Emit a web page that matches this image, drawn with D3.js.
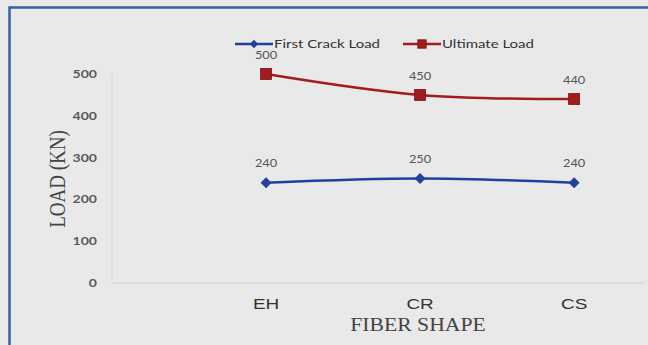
<!DOCTYPE html>
<html>
<head>
<meta charset="utf-8">
<script src="https://cdn.jsdelivr.net/npm/d3@7"></script>
<style>
  html, body { margin: 0; padding: 0; background: #e9e9e9; }
  svg { display: block; }
</style>
</head>
<body>
<svg id="chart" width="648" height="345"></svg>
<script>
// Fiber shapes on the x axis and the two measured loads (kN)
const categories = ["EH", "CR", "CS"];
const firstCrackLoad = [240, 250, 240];
const ultimateLoad = [500, 450, 440];
const yTicks = [0, 100, 200, 300, 400, 500];
const seriesNames = ["First Crack Load", "Ultimate Load"];

const svg = d3.select("#chart");
const W = 648, H = 345;
// text in this figure is drawn slightly wide
const SX = 1.22;

function place(sel, x, y, extra) {
  return sel.attr("x", 0).attr("y", 0)
    .attr("transform", `translate(${x},${y}) scale(${SX},1)` + (extra || ""));
}

// background and frame
svg.append("rect").attr("width", W).attr("height", H).attr("fill", "#e9e9e9");
svg.append("path")
  .attr("d", `M9.5,${H} V7.5 H${W}`)
  .attr("fill", "none").attr("stroke", "#3a5ea8").attr("stroke-width", 2.5);

// scales: categories sit at positions 1..3 on a linear index axis
const x = d3.scaleLinear().domain([0, 3.46]).range([112, 645]);
const y = d3.scaleLinear().domain([0, 500]).range([283, 74]);

// axis lines
svg.append("line").attr("x1", x(0)).attr("x2", x(3.46)).attr("y1", y(0)).attr("y2", y(0))
  .attr("stroke", "#cfcfcf").attr("stroke-width", 1.2);
svg.append("line").attr("x1", x(0)).attr("x2", x(0)).attr("y1", y(0)).attr("y2", y(500))
  .attr("stroke", "#d6d6d6").attr("stroke-width", 1);

// y tick labels
svg.append("g").selectAll("text").data(yTicks).join("text")
  .each(function (d) { place(d3.select(this), 97, y(d)); })
  .attr("dy", "0.35em")
  .attr("text-anchor", "end")
  .attr("font-family", "Lato, 'Open Sans', sans-serif")
  .attr("font-weight", "bold")
  .attr("font-size", 11.5).attr("fill", "#5a5a5a")
  .text(d => d);

// x tick labels
svg.append("g").selectAll("text").data(categories).join("text")
  .each(function (d, i) { place(d3.select(this), x(i + 1), 304); })
  .attr("dy", "0.35em")
  .attr("text-anchor", "middle")
  .attr("font-family", "Liberation Sans, Arial, sans-serif")
  .attr("font-size", 15.5).attr("fill", "#333")
  .text(d => d);

// axis titles
place(svg.append("text"), 57, 179, " rotate(-90)")
  .attr("text-anchor", "middle").attr("dy", "0.35em")
  .attr("font-family", "Liberation Serif, 'Times New Roman', serif")
  .attr("font-size", 19).attr("fill", "#444")
  .text("LOAD (KN)");
place(svg.append("text"), 418, 325)
  .attr("text-anchor", "middle").attr("dy", "0.35em")
  .attr("font-family", "Liberation Serif, 'Times New Roman', serif")
  .attr("font-size", 17.8).attr("fill", "#444")
  .text("FIBER SHAPE");

// series
const series = [
  { name: seriesNames[0], values: firstCrackLoad, color: "#23409a", marker: "diamond" },
  { name: seriesNames[1], values: ultimateLoad, color: "#a21c1e", marker: "square" }
];

const line = d3.line()
  .x((d, i) => x(i + 1))
  .y(d => y(d))
  .curve(d3.curveCatmullRom.alpha(0.5));

function drawMarker(g, type, cx, cy, color, r) {
  if (type === "diamond") {
    g.append("path")
      .attr("d", `M${cx},${cy - r} L${cx + r},${cy} L${cx},${cy + r} L${cx - r},${cy} Z`)
      .attr("fill", color);
  } else {
    g.append("rect")
      .attr("x", cx - r).attr("y", cy - r).attr("width", 2 * r).attr("height", 2 * r)
      .attr("fill", color).attr("stroke", "#7a1416").attr("stroke-width", 0.8);
  }
}

series.forEach(s => {
  const g = svg.append("g");
  g.append("path").datum(s.values)
    .attr("d", line)
    .attr("fill", "none").attr("stroke", s.color).attr("stroke-width", 2.5);
  s.values.forEach((v, i) => {
    drawMarker(g, s.marker, x(i + 1), y(v), s.color, 5.5);
    place(g.append("text"), x(i + 1), y(v) - 19)
      .attr("dy", "0.35em")
      .attr("text-anchor", "middle")
      .attr("font-family", "Lato, 'Open Sans', sans-serif")
      .attr("font-size", 10.5).attr("fill", "#555")
      .text(v);
  });
});

// legend
const legendItems = [
  { name: seriesNames[0], color: series[0].color, marker: "diamond", x0: 235 },
  { name: seriesNames[1], color: series[1].color, marker: "square", x0: 403 }
];
const ly = 44;
legendItems.forEach(it => {
  const g = svg.append("g");
  g.append("line").attr("x1", it.x0).attr("x2", it.x0 + 38).attr("y1", ly).attr("y2", ly)
    .attr("stroke", it.color).attr("stroke-width", 2.5);
  drawMarker(g, it.marker, it.x0 + 19, ly, it.color, 4.2);
  place(g.append("text"), it.x0 + 39, ly)
    .attr("dy", "0.35em")
    .attr("font-family", "Lato, 'Open Sans', sans-serif")
    .attr("font-size", 12.3).attr("fill", "#333")
    .text(it.name);
});
</script>
</body>
</html>
